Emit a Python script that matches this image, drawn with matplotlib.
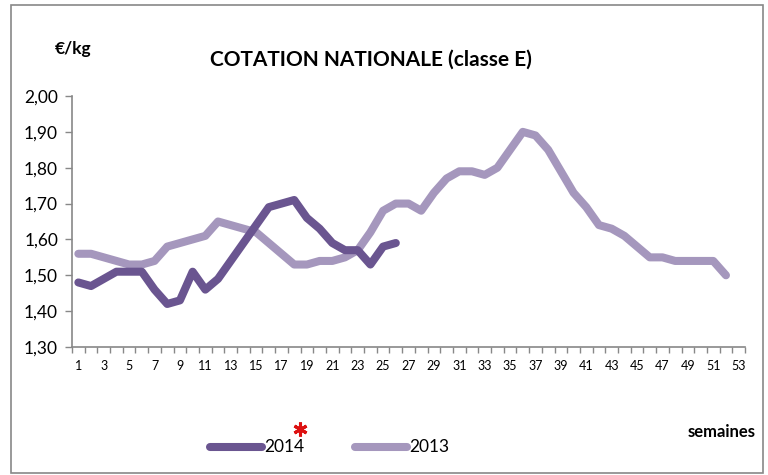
import numpy as np
import matplotlib
matplotlib.use('Agg')
import matplotlib.pyplot as plt
from matplotlib.patches import Rectangle
from matplotlib.ticker import FuncFormatter

plt.rcParams['font.family'] = ['Lato', 'DejaVu Sans']

# weekly national price, EUR/kg
semaines_2014 = list(range(1, 27))
prix_2014 = [1.48, 1.47, 1.49, 1.51, 1.51, 1.51, 1.46, 1.42, 1.43, 1.51,
             1.46, 1.49, 1.54, 1.59, 1.64, 1.69, 1.70, 1.71, 1.66, 1.63,
             1.59, 1.57, 1.57, 1.53, 1.58, 1.59]

semaines_2013 = list(range(1, 53))
prix_2013 = [1.56, 1.56, 1.55, 1.54, 1.53, 1.53, 1.54, 1.58, 1.59, 1.60,
             1.61, 1.65, 1.64, 1.63, 1.62, 1.59, 1.56, 1.53, 1.53, 1.54,
             1.54, 1.55, 1.57, 1.62, 1.68, 1.70, 1.70, 1.68, 1.73, 1.77,
             1.79, 1.79, 1.78, 1.80, 1.85, 1.90, 1.89, 1.85, 1.79, 1.73,
             1.69, 1.64, 1.63, 1.61, 1.58, 1.55, 1.55, 1.54, 1.54, 1.54,
             1.54, 1.50]

x_labels = list(range(1, 54, 2))
y_ticks = [1.30, 1.40, 1.50, 1.60, 1.70, 1.80, 1.90, 2.00]

c2014 = '#6a5590'
c2013 = '#a597bd'

fig = plt.figure(figsize=(7.68, 4.75), dpi=100)
W, H = 768, 475

# outer frame
fig.patches.append(Rectangle((11 / W, 1 - 473 / H), 752 / W, 468 / H,
                             transform=fig.transFigure, fill=False,
                             edgecolor='#888888', linewidth=1.2))

ax = fig.add_axes([72 / W, 1 - 347 / H, 673 / W, 251 / H])
ax.plot(semaines_2013, prix_2013, color=c2013, lw=5.8, solid_capstyle='round',
        solid_joinstyle='round', label='2013')
ax.plot(semaines_2014, prix_2014, color=c2014, lw=5.8, solid_capstyle='round',
        solid_joinstyle='round', label='2014')

ax.set_xlim(0.5, 53.5)
ax.set_ylim(1.30, 2.00)
ax.set_yticks(y_ticks)
ax.yaxis.set_major_formatter(FuncFormatter(lambda v, p: f'{v:.2f}'.replace('.', ',')))
ax.tick_params(axis='y', direction='out', length=5, width=1, color='#888888',
               labelsize=12.5, pad=5)

ax.set_xticks(np.arange(0.5, 54, 1))
ax.set_xticklabels([])
ax.tick_params(axis='x', which='major', direction='out', length=4, width=1,
               color='#888888')
ax.set_xticks(x_labels, minor=True)
ax.set_xticklabels([str(v) for v in x_labels], minor=True)
ax.tick_params(axis='x', which='minor', length=0, labelsize=9, pad=9)

for s in ['top', 'right']:
    ax.spines[s].set_visible(False)
for s in ['left', 'bottom']:
    ax.spines[s].set_color('#888888')
    ax.spines[s].set_linewidth(1.2)

fig.text(371 / W, 1 - 60 / H, 'COTATION NATIONALE (classe E)', ha='center',
         va='center', fontsize=15, fontweight='bold')
fig.text(73 / W, 1 - 49 / H, '€/kg', ha='center', va='center',
         fontsize=12.5, fontweight='bold')
fig.text(756 / W, 1 - 432 / H, 'semaines', ha='right', va='center',
         fontsize=12, fontweight='bold')

# legend drawn by hand
for x0, col, lab in [(210, c2014, '2014'), (355, c2013, '2013')]:
    fig.lines.append(plt.Line2D([x0 / W, (x0 + 52) / W], [1 - 447 / H, 1 - 447 / H],
                                transform=fig.transFigure, color=col, lw=5.8,
                                solid_capstyle='round'))
    fig.text((x0 + 54) / W, 1 - 447 / H, lab, ha='left', va='center', fontsize=12.5)

# red footnote mark above the 2014 entry
fig.lines.append(plt.Line2D([300 / W], [1 - 429 / H], transform=fig.transFigure,
                            marker=(6, 2, 0), markersize=10, markeredgewidth=2.2,
                            color='#dd1111', linestyle='none'))

fig.savefig('out.png', dpi=100)
